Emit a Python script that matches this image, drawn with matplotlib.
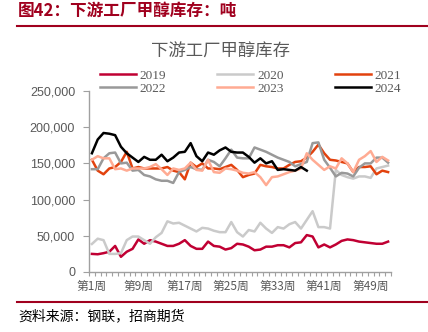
import matplotlib
matplotlib.use("Agg")
import matplotlib.pyplot as plt
from matplotlib.ticker import FuncFormatter, FixedLocator

plt.rcParams['font.family'] = ['Noto Sans CJK SC', 'DejaVu Sans']

weeks = list(range(1, 53))
tick_weeks = [1, 9, 17, 25, 33, 41, 49]
tick_labels = [f"第{w}周" for w in tick_weeks]

y2019 = [25, 24.5, 26, 28, 36, 21, 28, 32, 45, 39, 44, 42, 39, 36, 36, 39, 44, 36, 32, 32,
         42, 36, 35, 31, 33, 39, 38, 35, 30, 31, 35, 35, 37, 37, 34, 40, 41, 51, 49, 34,
         38, 34, 38, 43, 45, 44, 42, 41, 40, 39, 39, 42]
y2020 = [38.7, 46, 44, 25, 25, 26, 44, 49, 49, 44, 39, 48, 54, 70, 67, 68, 64, 60, 56, 61,
         60, 57, 55, 55, 69, 55, 49, 58, 56, 68, 60, 54, 62, 60, 66, 69, 60, 72, 84, 62,
         62, 60, 141, 134, 131, 129, 132, 132, 130, 143, 145, 147]
y2021 = [155, 140, 135, 143, 145, 152, 166, 143, 145, 143, 143, 143, 143, 145, 140, 138, 128, 151, 145, 150,
         143, 143, 142, 145, 148, 141, 131, 134, 136, 148, 146, 145, 143, 143, 148, 152, 153, 158, 166, 176,
         164, 155, 154, 152, 150, 138, 145, 145, 146, 135, 140, 138]
y2022 = [142, 142, 157, 164, 165, 150, 151, 140, 141, 134, 132, 128, 126, 126, 123, 138, 141, 145, 142, 141,
         155, 152, 146, 157, 169, 158, 157, 157, 172, 169, 166, 162, 158, 155, 152, 146, 149, 152, 178, 179,
         155, 144, 132, 137, 136, 132, 144, 150, 150, 158, 158, 151]
y2023 = [155, 160, 157, 157, 142, 143, 140, 143, 143, 143, 145, 149, 142, 134, 143, 141, 143, 151, 141, 140,
         155, 138, 137, 143, 142, 140, 137, 136, 138, 131, 120, 131, 132, 135, 138, 140, 143, 164, 155, 148,
         141, 146, 143, 157, 150, 138, 155, 160, 167, 152, 159, 154]
y2024 = [164, 183, 192, 191, 189, 173, 164, 158, 152, 159, 155, 155, 162, 153, 158, 165, 166, 178, 160, 153,
         165, 162, 168, 172, 166, 165, 165, 159, 151, 157, 150, 153, 141, 142, 141, 140, 145, 140]

series = [
    ("2019", y2019, "#C00033"),
    ("2020", y2020, "#CACACA"),
    ("2021", y2021, "#E2420E"),
    ("2022", y2022, "#999999"),
    ("2023", y2023, "#FFAB93"),
    ("2024", y2024, "#000000"),
]

fig = plt.figure(figsize=(4.28, 3.32), dpi=100)
ax = fig.add_axes([89 / 428, 1 - 272 / 332, 302 / 428, 181 / 332])

handles = {}
for name, vals, color in series:
    line, = ax.plot(weeks[:len(vals)], [v * 1000 for v in vals], color=color, lw=1.8,
                    label=name, solid_joinstyle='round')
    handles[name] = line

ax.set_xlim(0.5, 52.5)
ax.set_ylim(0, 250000)
ax.set_yticks([0, 50000, 100000, 150000, 200000, 250000])
ax.yaxis.set_major_formatter(FuncFormatter(lambda v, p: f"{int(v):,}"))
ax.set_xticks(tick_weeks)
ax.set_xticklabels(tick_labels)
ax.xaxis.set_minor_locator(FixedLocator([w + 0.5 for w in range(0, 53)]))

axis_gray = "#A0A0A0"
text_gray = "#595959"
for s in ["top", "right"]:
    ax.spines[s].set_visible(False)
for s in ["left", "bottom"]:
    ax.spines[s].set_color(axis_gray)
    ax.spines[s].set_linewidth(1.0)

ax.tick_params(axis='x', which='major', length=0, pad=6, labelsize=8.5, colors=text_gray)
ax.tick_params(axis='x', which='minor', length=3, color=axis_gray, width=0.8)
ax.tick_params(axis='y', which='major', length=4, color=axis_gray, width=0.8, pad=6)
for lab in ax.get_yticklabels():
    lab.set_fontfamily('Liberation Sans')
    lab.set_fontsize(9)
    lab.set_color(text_gray)

# legend filled column by column, so order the entries to read row by row
order = ["2019", "2022", "2020", "2023", "2021", "2024"]
leg = fig.legend([handles[k] for k in order], order, loc='upper left',
                 bbox_to_anchor=(88 / 428, 1 - 58 / 332), ncol=3,
                 frameon=False, handlelength=2.7, columnspacing=3.9,
                 labelspacing=0.05, handletextpad=0.3,
                 prop={'family': 'Liberation Serif', 'size': 9.5})
for t in leg.get_texts():
    t.set_color(text_gray)

fig.text(221 / 428, 1 - 52 / 332, "下游工厂甲醇库存", ha='center', va='center',
         fontsize=12.5, color=text_gray)

dark_red = "#A0001E"
fig.text(18 / 428, 1 - 11 / 332, "图42：下游工厂甲醇库存：吨", ha='left', va='center',
         fontsize=12, color=dark_red, fontweight='bold')
fig.add_artist(plt.Line2D([17 / 428, 1.0], [1 - 26 / 332, 1 - 26 / 332],
                          color=dark_red, lw=1.5))
fig.add_artist(plt.Line2D([17 / 428, 1.0], [1 - 302 / 332, 1 - 302 / 332],
                          color=dark_red, lw=1.5))
fig.text(18 / 428, 1 - 316 / 332, "资料来源：钢联，招商期货", ha='left', va='center',
         fontsize=10, color="#000000")

fig.savefig("out.png", dpi=100)
